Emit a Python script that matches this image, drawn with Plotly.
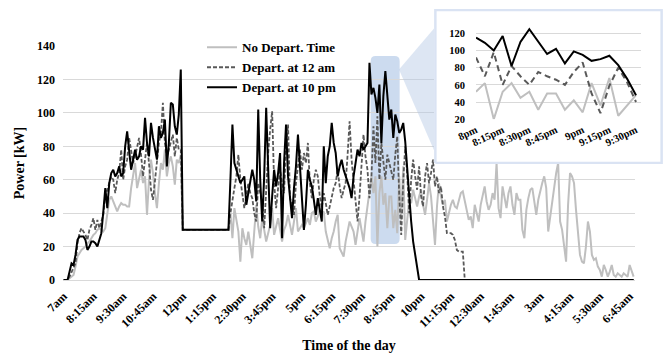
import plotly.graph_objects as go

# ---------------- data (5-minute steps from 7am to 6:55am) ----------------
no_depart = [
    0, 0, 0, 1, 2, 3, 8, 14, 16, 18,
    19, 20, 22, 23, 25, 27, 28, 30, 31, 30,
    29, 31, 40, 48, 50, 47, 44, 41, 44, 46,
    45, 45, 44, 44, 55, 62, 70, 55, 60, 66,
    58, 62, 39, 60, 72, 64, 52, 43, 58, 70,
    66, 78, 62, 70, 74, 68, 57, 72, 70, 75,
    30, 30, 30, 30, 30, 30, 30, 30, 30, 30,
    30, 30, 30, 30, 30, 30, 30, 30, 30, 30,
    30, 30, 30, 30,
    40, 25, 43, 35, 29, 11, 31, 25, 21, 29,
    20, 13, 29, 45, 32, 25, 37, 30, 23, 28,
    33, 43, 27, 32, 37, 30, 23, 30, 33, 39,
    32, 27, 35, 43, 29, 31, 33, 31, 34, 37,
    33, 40, 41, 35, 38, 43, 40, 41, 29, 24,
    19, 25, 29, 35, 39, 19, 16, 14, 23, 30,
    35, 32, 29, 21, 28, 37, 30, 23, 35, 45,
    55, 62,
    52, 62, 20, 52, 62, 45, 52, 31, 50, 50, 31, 42, 28, 62, 36, 68, 24, 36, 48,
    46, 54, 49, 44, 50, 54, 45, 39, 48, 58,
    50, 37, 21, 44, 58, 50, 45, 48, 35, 40,
    45, 48, 44, 43, 48, 52, 53, 47, 40, 36,
    38, 31, 45, 40, 35, 45, 50, 56, 47, 42,
    45, 52, 48, 70, 43, 37, 56, 48, 43, 52,
    56, 45, 39, 52, 48, 48, 30, 25, 42, 49,
    54, 55, 47, 39, 48, 54, 58, 62, 55, 29,
    38, 44, 56, 64, 70, 35, 30, 20, 11, 45,
    64, 62, 58, 42, 29, 15, 11, 10, 20, 35,
    29, 15, 12, 13, 8, 6, 2, 9, 6, 2,
    5, 9, 3, 2, 4, 3, 2, 4, 3, 2,
    9, 5, 2,
]

depart_12am = [
    0, 0, 0, 2, 5, 8, 10, 22, 28, 31,
    29, 27, 24, 30, 33, 37, 30, 36, 31, 35,
    39, 50, 54, 58, 62, 60, 52, 60, 64, 78,
    60, 68, 72, 85, 76, 70, 74, 80, 85, 75,
    62, 72, 82, 70, 54, 48, 60, 70, 82, 88,
    106, 82, 74, 78, 82, 87, 74, 85, 78, 78,
    30, 30, 30, 30, 30, 30, 30, 30, 30, 30,
    30, 30, 30, 30, 30, 30, 30, 30, 30, 30,
    30, 30, 30, 30,
    40, 49, 55, 62, 75, 60, 52, 43, 50, 58,
    52, 49, 40, 35, 58, 52, 46, 31, 55, 76,
    90, 101, 58, 43, 55, 66, 58, 52, 80, 93,
    49, 43, 39, 58, 70, 78, 66, 76, 70, 82,
    58, 49, 60, 66, 62, 50, 43, 52, 46, 39,
    44, 49, 55, 58, 66, 56, 49, 54, 58, 75,
    95, 72, 58, 49, 35, 50, 66, 87, 74, 66,
    49, 62,
    92, 70, 98, 60, 82, 70, 60, 75, 70, 66, 60, 75, 86, 50, 27, 59, 80, 63, 40,
    60, 72, 62, 54, 68, 50, 44, 62, 70, 58,
    64, 72, 56, 62, 52, 56, 44, 38, 28, 28,
    28, 27, 24, 18, 17, 17, 17,
    0, 0, 0, 0, 0, 0, 0, 0, 0, 0,
    0, 0, 0, 0, 0, 0, 0, 0, 0, 0,
    0, 0, 0, 0, 0, 0, 0, 0, 0, 0,
    0, 0, 0, 0, 0, 0, 0, 0, 0, 0,
    0, 0, 0, 0, 0, 0, 0, 0, 0, 0,
    0, 0, 0, 0, 0, 0, 0, 0, 0, 0,
    0, 0, 0, 0, 0, 0, 0, 0, 0, 0,
    0, 0, 0, 0, 0, 0, 0, 0, 0, 0,
    0, 0, 0, 0, 0, 0,
]

depart_10pm = [
    0, 0, 0, 5, 10, 9, 15, 24, 26, 26,
    26, 24, 18, 20, 23, 23, 22, 20, 24, 28,
    41, 55, 43, 58, 64, 66, 62, 64, 68, 62,
    64, 80, 89, 78, 66, 72, 78, 72, 74, 80,
    78, 97, 82, 74, 94, 85, 77, 72, 92, 85,
    88, 96, 68, 82, 106, 105, 92, 87, 99, 126,
    30, 30, 30, 30, 30, 30, 30, 30, 30, 30,
    30, 30, 30, 30, 30, 30, 30, 30, 30, 30,
    30, 30, 30, 30,
    60, 93, 70, 66, 62, 58, 60, 62, 45, 52,
    58, 66, 60, 47, 102, 60, 35, 62, 103, 60,
    31, 50, 66, 56, 64, 76, 25, 70, 93, 62,
    50, 37, 55, 68, 87, 70, 52, 30, 45, 66,
    60, 56, 48, 39, 49, 42, 35, 80, 58, 74,
    80, 94, 82, 76, 62, 68, 72, 66, 62, 58,
    55, 49, 62, 70, 78, 74, 82, 78, 80, 82,
    130, 111,
    115, 109, 100, 117, 82, 110, 125, 111, 96, 102, 85, 99, 95, 88, 90, 94, 83, 67, 48,
    35, 23, 15, 7,
    0, 0, 0, 0, 0, 0, 0, 0, 0, 0,
    0, 0, 0, 0, 0, 0, 0, 0, 0, 0,
    0, 0, 0, 0, 0, 0, 0, 0, 0, 0,
    0, 0, 0, 0, 0, 0, 0, 0, 0, 0,
    0, 0, 0, 0, 0, 0, 0, 0, 0, 0,
    0, 0, 0, 0, 0, 0, 0, 0, 0, 0,
    0, 0, 0, 0, 0, 0, 0, 0, 0, 0,
    0, 0, 0, 0, 0, 0, 0, 0, 0, 0,
    0, 0, 0, 0, 0, 0, 0, 0, 0, 0,
    0, 0, 0, 0, 0, 0, 0, 0, 0, 0,
    0, 0, 0, 0, 0, 0, 0, 0, 0,
]

tick_labels = ["7am", "8:15am", "9:30am", "10:45am", "12pm", "1:15pm", "2:30pm",
               "3:45pm", "5pm", "6:15pm", "7:30pm", "8:45pm", "10pm", "11:15pm",
               "12:30am", "1:45am", "3am", "4:15am", "5:30am", "6:45am"]
tick_step = 15  # one label every 15 five-minute steps

inset_start, inset_end = 156, 175   # 8pm .. 9:30pm
inset_labels = ["8pm", "8:15pm", "8:30pm", "8:45pm", "9pm", "9:15pm", "9:30pm"]

names = ["No Depart. Time", "Depart. at 12 am", "Depart. at 10 pm"]

# ---------------- figure ----------------
n = len(depart_10pm)
x = list(range(n))
FONT = "Liberation Serif"
GRID = "#d9d9d9"

styles = [dict(color="#bfbfbf", width=2),
          dict(color="#595959", width=1.8, dash="4px,2px"),
          dict(color="#000000", width=2)]
series = [no_depart, depart_12am, depart_10pm]

fig = go.Figure()
for name, s, st in zip(names, series, styles):
    fig.add_trace(go.Scatter(x=x, y=s, mode="lines", name=name, line=st,
                             xaxis="x", yaxis="y", hoverinfo="skip"))

# white inset box (own hidden subplot, drawn above the main plot)
fig.add_trace(go.Scatter(x=[0, 1, 1, 0, 0], y=[0, 0, 1, 1, 0], mode="lines",
                         fill="toself", fillcolor="white",
                         line=dict(color="#dae3f3", width=2.5),
                         xaxis="x2", yaxis="y2", showlegend=False, hoverinfo="skip"))

inset_styles = [dict(color="#bfbfbf", width=2),
                dict(color="#595959", width=2, dash="6px,4px"),
                dict(color="#000000", width=2)]
xi = list(range(inset_end - inset_start))
for name, s, st in zip(names, series, inset_styles):
    fig.add_trace(go.Scatter(x=xi, y=s[inset_start:inset_end], mode="lines", line=st,
                             xaxis="x3", yaxis="y3", showlegend=False, hoverinfo="skip"))

# layout geometry (paper: px 63..664 horizontally, px 2..280 vertically)
L, R, T, B = 63, 8, 2, 76
W, H = 672, 356
pw, ph = W - L - R, H - T - B
def px(xp): return (xp - L) / pw
def py(yp): return (H - B - yp) / ph

tickfont = dict(family=FONT, size=12, color="black", weight="bold")
fig.update_layout(
    width=W, height=H, margin=dict(l=L, r=R, t=T, b=B),
    paper_bgcolor="white", plot_bgcolor="white",
    showlegend=True,
    legend=dict(x=px(202), y=py(26), xanchor="left", yanchor="top",
                bgcolor="rgba(0,0,0,0)", font=dict(family=FONT, size=13, color="black", weight="bold"),
                tracegroupgap=0),
    xaxis=dict(domain=[0, px(635)], range=[-0.3, n - 0.3],
               tickmode="array", tickvals=[i * tick_step for i in range(len(tick_labels))],
               ticktext=tick_labels, tickangle=-45, tickfont=tickfont,
               showgrid=False, zeroline=False, showline=False, ticks="",
               ticklabelstandoff=6,
               title=dict(text="Time of the day", font=dict(family=FONT, size=14, color="black", weight="bold"),
                          standoff=10)),
    yaxis=dict(domain=[0, py(40)], range=[0, 140], dtick=20, tickfont=tickfont,
               showgrid=True, gridcolor=GRID, gridwidth=1,
               zeroline=True, zerolinecolor=GRID, zerolinewidth=1,
               showline=False, ticks="", ticklabelstandoff=7,
               title=dict(text="Power [kW]", font=dict(family=FONT, size=14, color="black", weight="bold"),
                          standoff=9)),
    xaxis2=dict(domain=[px(434), px(663)], range=[-0.006, 1.006], visible=False, anchor="y2"),
    yaxis2=dict(domain=[py(161), py(2)], range=[-0.006, 1.006], visible=False, anchor="x2"),
    xaxis3=dict(domain=[px(476), px(641)], range=[0, 18.56], anchor="y3",
                tickmode="array", tickvals=[i * 3 for i in range(len(inset_labels))],
                ticktext=inset_labels, tickangle=-25,
                tickfont=dict(family=FONT, size=10.5, color="black", weight="bold"),
                showgrid=False, zeroline=False, showline=False, ticks="", ticklabelstandoff=2),
    yaxis3=dict(domain=[py(115), py(20)], range=[20, 128], dtick=20, anchor="x3",
                tickvals=[20, 40, 60, 80, 100, 120],
                tickfont=dict(family=FONT, size=10.5, color="black", weight="bold"),
                showgrid=True, gridcolor=GRID, gridwidth=1, zeroline=False,
                showline=False, ticks="", ticklabelstandoff=10),
)

# highlight band (rounded) on the main chart
bx0, bx1, by0, by1 = 154.6, 169.2, 21.6, 134
rx, ry = 2.5, 3
band_path = (f"M {bx0+rx},{by1} L {bx1-rx},{by1} Q {bx1},{by1} {bx1},{by1-ry} "
             f"L {bx1},{by0+ry} Q {bx1},{by0} {bx1-rx},{by0} L {bx0+rx},{by0} "
             f"Q {bx0},{by0} {bx0},{by0+ry} L {bx0},{by1-ry} Q {bx0},{by1} {bx0+rx},{by1} Z")
fig.add_shape(type="path", path=band_path, xref="x", yref="y", layer="below",
              fillcolor="rgba(170,195,228,0.6)", line=dict(width=0))

# wedge linking band to the inset
wedge = f"M {px(399)},{py(64)} L {px(434)},{py(22)} L {px(434)},{py(147)} Z"
fig.add_shape(type="path", path=wedge, xref="paper", yref="paper", layer="above",
              fillcolor="rgba(180,200,228,0.45)", line=dict(width=0))

# remove the default page margin so the figure sits at the window's top-left corner
fig.write_html("out.html", config={"displayModeBar": False},
               post_script="document.body.style.margin='0';")
